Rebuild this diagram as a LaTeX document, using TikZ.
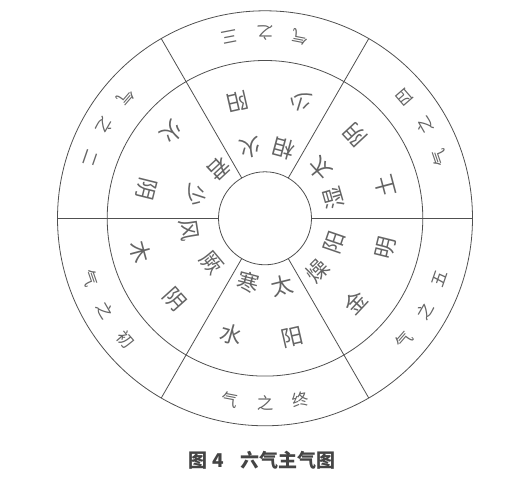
\documentclass[tikz,border=0pt]{standalone}
\usepackage{fontspec}
\newfontfamily\cjk{Noto Sans CJK SC}
\usepackage{tikz}
\definecolor{linegray}{HTML}{505050}
\definecolor{textgray}{HTML}{646464}
\definecolor{capgray}{HTML}{444444}

\begin{document}
\begin{tikzpicture}[x=1pt,y=1pt]
    \tikzstyle{every node}+=[inner sep=0pt]
    \tikzstyle{ring}=[draw=linegray, line width=0.8pt]
    \tikzstyle{qiname}=[font=\cjk\fontsize{16.5}{16.5}\selectfont, text=textgray]
    \tikzstyle{qichar}=[font=\cjk\fontsize{22}{22}\selectfont, text=textgray]
    \useasboundingbox (0,0) rectangle (528,489);
    \begin{scope}[shift={(265,270.7)}]
    \coordinate (o) at (0,0);
    % the three circles
    \draw [ring] (o) circle (207.5);
    \draw [ring] (o) circle (157.8);
    \draw [ring] (o) circle (46.5);
    % six sectors
    \foreach \a in {0,60,...,300}
        \draw [ring] (\a:46.5) -- (\a:207.5);
    % outer ring: which qi
    \foreach \c/\t [count=\i] in {90/三,30/四,-30/五,-90/终,-150/初,150/二} {
        \node [qiname, rotate=\c+101] (qa\i) at (\c+11:185) {\t};
        \node [qiname, rotate=\c+90] (qb\i) at (\c:185) {之};
        \node [qiname, rotate=\c+79] (qc\i) at (\c-11:185) {气};
    }
    % middle ring: the main qi of each step
    \foreach \a/\r/\t [count=\i] in {103/120/阳, 73/122/少, 102/72/火, 75/72/相,
        43/123/阴, 42/74/太, 16/71/湿, 15/124/土,
        341/74/阳, 315/74/燥, 346/124/明, 317/124/金,
        284/70/太, 255/66/寒, 283/122/阳, 254/121/水,
        220/70/厥, 189/77/风, 222/121/阴, 195/129/木,
        162/72/少, 133/68/君, 166/122/阴, 137/127/火}
        \node [qichar, rotate=\a+90] (m\i) at (\a:\r) {\t};
    \end{scope}
    % caption
    \node [font=\cjk\bfseries\fontsize{19}{19}\selectfont, text=capgray] (caption) at (262.5,29) {图 4\hspace{0.9em}六气主气图};
\end{tikzpicture}
\end{document}
